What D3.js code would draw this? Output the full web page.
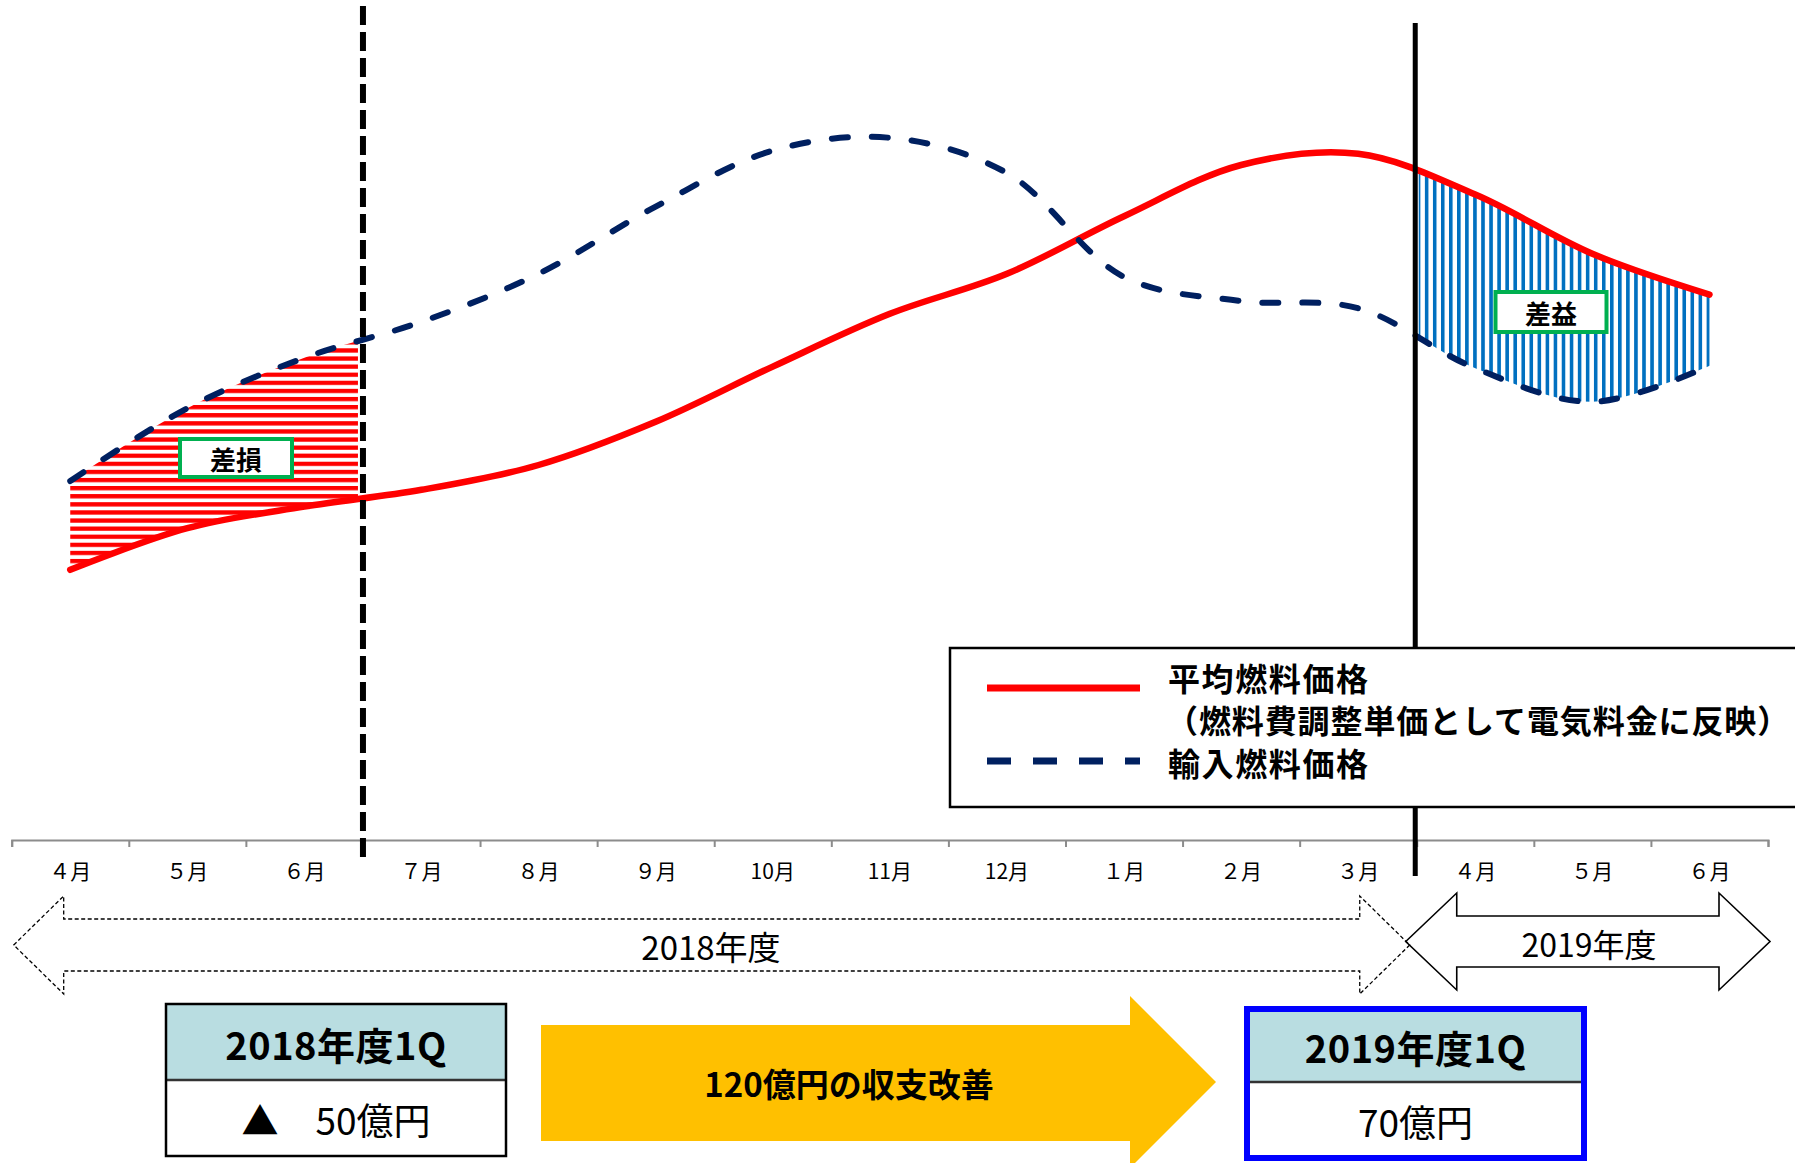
<!DOCTYPE html>
<html>
<head>
<meta charset="utf-8">
<script src="https://cdn.jsdelivr.net/npm/d3@7"></script>
<style>
  body { margin: 0; background: #fff; }
  svg { display: block; }
  text { font-family: "Noto Sans CJK JP", "Noto Sans", sans-serif; }
</style>
</head>
<body>
<svg id="chart" width="1795" height="1163"></svg>
<script>
// Month categories (FY2018 April through FY2019 June)
const monthLabels = ["４月", "５月", "６月", "７月", "８月", "９月", "10月", "11月", "12月", "１月", "２月", "３月", "４月", "５月", "６月"];

// Average fuel price (reflected in the fuel-cost adjustment unit price)
const avgFuelPrice = [33.9, 39.1, 41.8, 43.9, 47.0, 52.4, 59.3, 65.9, 70.9, 78.1, 84.5, 85.9, 80.8, 73.4, 68.3];
// Imported fuel price
const importFuelPrice = [45.0, 54.1, 60.4, 64.9, 70.9, 79.3, 86.3, 87.9, 83.5, 70.5, 67.5, 66.6, 59.1, 54.9, 59.4];

const legendLabels = ["平均燃料価格", "（燃料費調整単価として電気料金に反映）", "輸入燃料価格"];
const gapLabels = ["差損", "差益"];
const fiscalYearLabels = ["2018年度", "2019年度"];
const quarterTitles = ["2018年度1Q", "2019年度1Q"];
const quarterResults = ["▲　50億円", "70億円"];
const improvementLabel = "120億円の収支改善";

// Month index where each first quarter ends (boundary lines)
const q1EndIndex = [3, 12];

const RED = "#ff0000", NAVY = "#002060", HATCH_BLUE = "#0070c0", GREEN = "#00b050";
const HEADER_FILL = "#b9dde1", GOLD = "#ffc000";

const svg = d3.select("#chart");
svg.append("rect").attr("width", 1795).attr("height", 1163).attr("fill", "#fff");

const x = d3.scaleBand().domain(d3.range(monthLabels.length)).range([11.7, 1768]).padding(0);
const xEdge = d3.scaleLinear().domain([0, monthLabels.length]).range(x.range());
const y = d3.scaleLinear().domain([0, 100]).range([841, 41]);
const cx = i => x(i) + x.bandwidth() / 2;

const rows = d3.range(monthLabels.length).map(i => ({ i, avg: avgFuelPrice[i], imp: importFuelPrice[i] }));
const curve = d3.curveCatmullRom.alpha(0.5);

// ---- hatch patterns ----
const defs = svg.append("defs");
const pRed = defs.append("pattern").attr("id", "hatchRed").attr("patternUnits", "userSpaceOnUse")
  .attr("width", 20).attr("height", 8.1);
pRed.append("rect").attr("y", 0).attr("width", 20).attr("height", 4.3).attr("fill", RED);
const pBlue = defs.append("pattern").attr("id", "hatchBlue").attr("patternUnits", "userSpaceOnUse")
  .attr("width", 8.05).attr("height", 20);
pBlue.append("rect").attr("x", 0).attr("width", 3.6).attr("height", 20).attr("fill", HATCH_BLUE);

const lossEdge = xEdge(q1EndIndex[0]);
const gainEdge = xEdge(q1EndIndex[1]);
defs.append("clipPath").attr("id", "clipLoss").append("rect")
  .attr("x", cx(0) - 3).attr("y", 0).attr("width", lossEdge - 5 - (cx(0) - 3)).attr("height", 841);
defs.append("clipPath").attr("id", "clipGain").append("rect")
  .attr("x", gainEdge + 2).attr("y", 0).attr("width", cx(14) + 12 - gainEdge).attr("height", 841);

const band = d3.area().x(d => cx(d.i)).y0(d => y(d.avg)).y1(d => y(d.imp)).curve(curve);
svg.append("path").attr("d", band(rows.slice(0, 5))).attr("fill", "url(#hatchRed)")
  .attr("clip-path", "url(#clipLoss)");
svg.append("path").attr("d", band(rows.slice(10))).attr("fill", "url(#hatchBlue)")
  .attr("clip-path", "url(#clipGain)");

// ---- price lines ----
const lineAvg = d3.line().x(d => cx(d.i)).y(d => y(d.avg)).curve(curve);
const lineImp = d3.line().x(d => cx(d.i)).y(d => y(d.imp)).curve(curve);
svg.append("path").attr("d", lineAvg(rows)).attr("fill", "none").attr("stroke", RED)
  .attr("stroke-width", 6.5).attr("stroke-linecap", "round");
svg.append("path").attr("d", lineImp(rows)).attr("fill", "none").attr("stroke", NAVY)
  .attr("stroke-width", 6).attr("stroke-linecap", "round").attr("stroke-dasharray", "16,24");

// ---- axis ----
const edgeAxis = svg.append("g").attr("transform", "translate(0,840)")
  .call(d3.axisBottom(xEdge).ticks(monthLabels.length).tickSize(7).tickSizeOuter(7).tickFormat(""));
edgeAxis.selectAll("path, line").attr("stroke", "#8c8c8c").attr("stroke-width", 2);

const labelAxis = svg.append("g").attr("transform", "translate(0,840)")
  .call(d3.axisBottom(x).tickSize(0).tickPadding(24).tickFormat(i => monthLabels[i]));
labelAxis.select(".domain").remove();
labelAxis.selectAll("text").attr("font-size", 21).attr("fill", "#000")
  .attr("font-family", "\"Noto Sans CJK JP\", sans-serif");

// ---- quarter boundary lines ----
svg.append("line").attr("x1", lossEdge).attr("x2", lossEdge).attr("y1", 6).attr("y2", 858)
  .attr("stroke", "#000").attr("stroke-width", 6).attr("stroke-dasharray", "19,7");
svg.append("line").attr("x1", gainEdge - 1.5).attr("x2", gainEdge - 1.5).attr("y1", 23).attr("y2", 876)
  .attr("stroke", "#000").attr("stroke-width", 5);

// ---- gap labels ----
function tagBox(cxp, cyp, w, h, label) {
  svg.append("rect").attr("x", cxp - w / 2).attr("y", cyp - h / 2).attr("width", w).attr("height", h)
    .attr("fill", "#fff").attr("stroke", GREEN).attr("stroke-width", 4);
  svg.append("text").attr("x", cxp).attr("y", cyp).attr("text-anchor", "middle")
    .attr("dominant-baseline", "central").attr("font-size", 26).attr("font-weight", 700)
    .attr("fill", "#000").text(label);
}
tagBox(236, 458, 112, 38, gapLabels[0]);
tagBox(1551, 312, 111, 40, gapLabels[1]);

// ---- legend ----
const lg = svg.append("g");
lg.append("rect").attr("x", 950).attr("y", 648).attr("width", 880).attr("height", 159)
  .attr("fill", "#fff").attr("stroke", "#000").attr("stroke-width", 2.5);
lg.append("line").attr("x1", 987).attr("x2", 1140).attr("y1", 688).attr("y2", 688)
  .attr("stroke", RED).attr("stroke-width", 7);
lg.append("line").attr("x1", 987).attr("x2", 1140).attr("y1", 761).attr("y2", 761)
  .attr("stroke", NAVY).attr("stroke-width", 7).attr("stroke-dasharray", "24,22");
// first entry is two lines in one text element
const t1 = lg.append("text").attr("font-size", 32).attr("font-weight", 700).attr("fill", "#000");
t1.append("tspan").attr("x", 1168).attr("y", 691).attr("letter-spacing", 1.6).text(legendLabels[0]);
t1.append("tspan").attr("x", 1166).attr("y", 733).attr("letter-spacing", 0.9).text(legendLabels[1]);
lg.append("text").attr("x", 1168).attr("y", 776).attr("font-size", 32).attr("font-weight", 700)
  .attr("letter-spacing", 1.6).attr("fill", "#000").text(legendLabels[2]);

// ---- fiscal year arrows ----
function doubleArrow(x0, x1, cy, h, H, S) {
  return `M${x0},${cy}L${x0 + h},${cy - H}L${x0 + h},${cy - S}L${x1 - h},${cy - S}L${x1 - h},${cy - H}` +
    `L${x1},${cy}L${x1 - h},${cy + H}L${x1 - h},${cy + S}L${x0 + h},${cy + S}L${x0 + h},${cy + H}Z`;
}
svg.append("path").attr("d", doubleArrow(xEdge(0) + 2, gainEdge - 7, 945, 50, 49, 26))
  .attr("fill", "none").attr("stroke", "#000").attr("stroke-width", 1.3).attr("stroke-dasharray", "4,2.5");
svg.append("path").attr("d", doubleArrow(gainEdge - 11, xEdge(monthLabels.length) + 2, 941.5, 51, 48.5, 25.5))
  .attr("fill", "none").attr("stroke", "#000").attr("stroke-width", 1.6);
svg.append("text").attr("x", 711).attr("y", 946).attr("text-anchor", "middle").attr("dominant-baseline", "central")
  .attr("font-size", 33).attr("fill", "#000").text(fiscalYearLabels[0]);
svg.append("text").attr("x", 1589).attr("y", 943).attr("text-anchor", "middle").attr("dominant-baseline", "central")
  .attr("font-size", 32).attr("fill", "#000").text(fiscalYearLabels[1]);

// ---- quarterly result tables ----
function resultTable(x0, y0, w, h, divY, title, value, border, bw) {
  svg.append("rect").attr("x", x0).attr("y", y0).attr("width", w).attr("height", divY - y0).attr("fill", HEADER_FILL);
  svg.append("rect").attr("x", x0).attr("y", divY).attr("width", w).attr("height", y0 + h - divY).attr("fill", "#fff");
  svg.append("line").attr("x1", x0).attr("x2", x0 + w).attr("y1", divY).attr("y2", divY)
    .attr("stroke", "#333").attr("stroke-width", 2.5);
  svg.append("rect").attr("x", x0).attr("y", y0).attr("width", w).attr("height", h)
    .attr("fill", "none").attr("stroke", border).attr("stroke-width", bw);
  svg.append("text").attr("x", x0 + w / 2).attr("y", (y0 + divY) / 2 + 1).attr("text-anchor", "middle")
    .attr("dominant-baseline", "central").attr("font-size", 38).attr("font-weight", 700)
    .attr("letter-spacing", 0.5).attr("fill", "#000").text(title);
  svg.append("text").attr("x", x0 + w / 2).attr("y", (divY + y0 + h) / 2 + 1).attr("text-anchor", "middle")
    .attr("dominant-baseline", "central").attr("font-size", 37).attr("fill", "#000").text(value);
}
resultTable(166, 1004, 340, 152, 1080, quarterTitles[0], quarterResults[0], "#000", 2.5);
resultTable(1247, 1009, 337, 149, 1082, quarterTitles[1], quarterResults[1], "#0000ff", 6);

// ---- improvement arrow ----
svg.append("path").attr("d", "M541,1025L1130,1025L1130,996L1216,1082L1130,1168L1130,1141L541,1141Z")
  .attr("fill", GOLD);
svg.append("text").attr("x", 849).attr("y", 1083).attr("text-anchor", "middle").attr("dominant-baseline", "central")
  .attr("font-size", 33).attr("font-weight", 700).attr("fill", "#000").text(improvementLabel);
</script>
</body>
</html>
